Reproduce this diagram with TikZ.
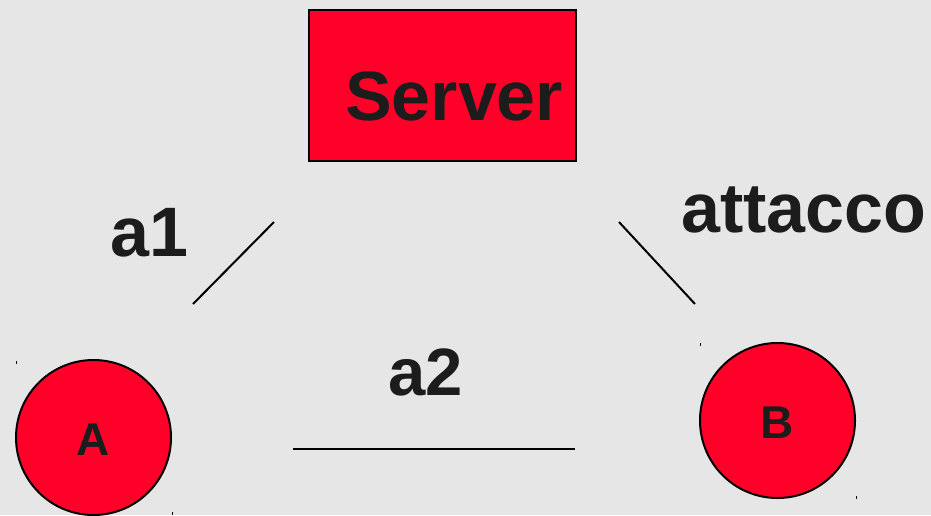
\documentclass[tikz,border=0pt]{standalone}
\usepackage{xcolor}
\usepackage{fontspec}
\setmainfont{Liberation Sans}
\usetikzlibrary{positioning,shapes.geometric}
\definecolor{nodered}{HTML}{FF0029}
\definecolor{bggray}{HTML}{E6E6E6}
\definecolor{inkdark}{HTML}{1C1C1C}
\tikzset{
  redbox/.style={draw=black, line width=2pt, fill=nodered, rectangle, minimum width=267pt, minimum height=151pt, inner sep=0pt},
  redcircle/.style={draw=black, line width=2pt, fill=nodered, circle, minimum size=155pt, inner sep=0pt},
  biglabel/.style={font=\fontsize{70}{70}\selectfont\bfseries, text=inkdark, inner sep=0pt, anchor=base west},
  letterlabel/.style={font=\fontsize{46}{46}\selectfont\bfseries, text=inkdark, inner sep=0pt, anchor=base},
  link/.style={line width=2pt, black},
  corner/.style={line width=1pt, black}
}
\begin{document}
\begin{tikzpicture}[x=1pt, y=-1pt]
                \useasboundingbox[fill=bggray] (0,0) rectangle (931,515);
                % nodes
                \node[redbox] (server) at (442.5,85.5) {};
                \node[biglabel] (serverlabel) at (345,120) {Server};
                \node[redcircle] (nodeA) at (93.5,437.5) {};
                \node[letterlabel] (labelA) at (93,455) {A};
                \node[redcircle] (nodeB) at (777.5,420.5) {};
                \node[letterlabel] (labelB) at (777,438) {B};
                % link labels
                \node[biglabel] (labela1) at (110,256) {a1};
                \node[biglabel] (labelatt) at (681,232) {attacco};
                \node[biglabel, font=\fontsize{67}{67}\selectfont\bfseries] (labela2) at (388,395) {a2};
                % links
                \coordinate (a1top) at (274,222);
                \coordinate (a1bot) at (193,304);
                \coordinate (atttop) at (619,222);
                \coordinate (attbot) at (695,304);
                \coordinate (a2left) at (293,449);
                \coordinate (a2right) at (575,449);
                \draw[link] (a1top) -- (a1bot);
                \draw[link] (atttop) -- (attbot);
                \draw[link] (a2left) -- (a2right);
                % corner marks
                \draw[corner] (16,361) -- (16,364);
                \draw[corner] (172,512) -- (172,515);
                \draw[corner] (700,343) -- (700,346);
                \draw[corner] (856,496) -- (856,499);
            \end{tikzpicture}
\end{document}
